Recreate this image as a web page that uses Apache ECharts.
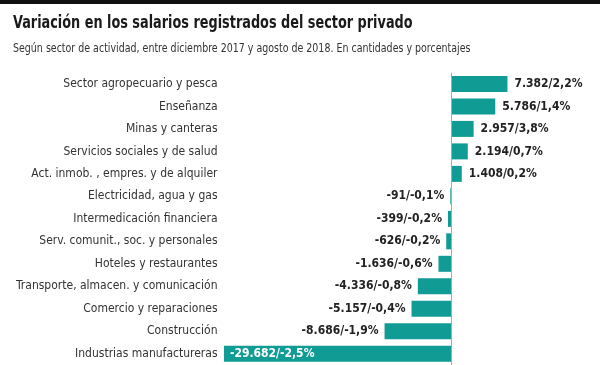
<!DOCTYPE html>
<html><head><meta charset="utf-8">
<script src="https://cdn.jsdelivr.net/npm/echarts@6/dist/echarts.min.js"></script>
<style>html,body{margin:0;padding:0;background:#fff}#c{width:600px;height:365px}</style>
</head><body><div id="c"></div>
<script>
var titleText = "Variación en los salarios registrados del sector privado";
var subtitleText = "Según sector de actividad, entre diciembre 2017 y agosto de 2018. En cantidades y porcentajes";
var categories = [
  "Sector agropecuario y pesca",
  "Enseñanza",
  "Minas y canteras",
  "Servicios sociales y de salud",
  "Act. inmob. , empres. y de alquiler",
  "Electricidad, agua y gas",
  "Intermedicación financiera",
  "Serv. comunit., soc. y personales",
  "Hoteles y restaurantes",
  "Transporte, almacen. y comunicación",
  "Comercio y reparaciones",
  "Construcción",
  "Industrias manufactureras"
];
var values = [7382, 5786, 2957, 2194, 1408, -91, -399, -626, -1636, -4336, -5157, -8686, -29682];
var percents = [2.2, 1.4, 3.8, 0.7, 0.2, -0.1, -0.2, -0.2, -0.6, -0.8, -0.4, -1.9, -2.5];

function fmtNum(v) {
  var s = Math.abs(v).toString().replace(/\B(?=(\d{3})+(?!\d))/g, ".");
  return (v < 0 ? "-" : "") + s;
}
function fmtPct(p) {
  return p.toFixed(1).replace(".", ",") + "%";
}

var FONT = '"DejaVu Sans Condensed", "DejaVu Sans", sans-serif';
var barColor = "#119b95";
var data = values.map(function (v, i) {
  var lbl;
  if (i === values.length - 1) {
    lbl = { position: "insideLeft", color: "#fff", distance: 6 };
  } else if (v >= 0) {
    lbl = { position: "right", distance: 7 };
  } else {
    lbl = { position: "left", distance: 6 };
  }
  return { value: v, label: lbl };
});

var chart = echarts.init(document.getElementById("c"), null, { renderer: "canvas" });
chart.setOption({
  backgroundColor: "#fff",
  animation: false,
  graphic: [{
    type: "rect", shape: { x: 0, y: 0, width: 600, height: 4 },
    style: { fill: "#111" }
  }, {
    type: "text", x: 13, y: 24, scaleX: 0.84,
    style: { text: titleText, font: 'bold 17px ' + FONT, fill: "#1a1a1a", align: "left", verticalAlign: "middle" }
  }, {
    type: "text", x: 13, y: 49, scaleX: 0.81,
    style: { text: subtitleText, font: '13px ' + FONT, fill: "#333", align: "left", verticalAlign: "middle" }
  }],
  grid: { left: 221.5, width: 344.25, top: 72.7, height: 293.3, containLabel: false },
  xAxis: {
    type: "value", min: -30000, max: 15000, show: false,
    splitLine: { show: false }
  },
  yAxis: {
    type: "category", data: categories, inverse: true,
    axisLine: { show: false, onZero: false },
    axisTick: { show: false },
    axisLabel: { margin: 4, fontFamily: FONT, fontSize: 12, color: "#333" }
  },
  series: [{
    type: "bar", data: data, barWidth: 16,
    itemStyle: { color: barColor },
    label: {
      show: true, fontFamily: FONT, fontWeight: "bold", fontSize: 12, color: "#222",
      formatter: function (p) { return fmtNum(values[p.dataIndex]) + "/" + fmtPct(percents[p.dataIndex]); }
    },
    markLine: {
      silent: true, symbol: "none", label: { show: false },
      lineStyle: { color: "#aaa", type: "solid", width: 1 },
      data: [{ xAxis: 0 }]
    }
  }]
});
</script>
</body></html>
